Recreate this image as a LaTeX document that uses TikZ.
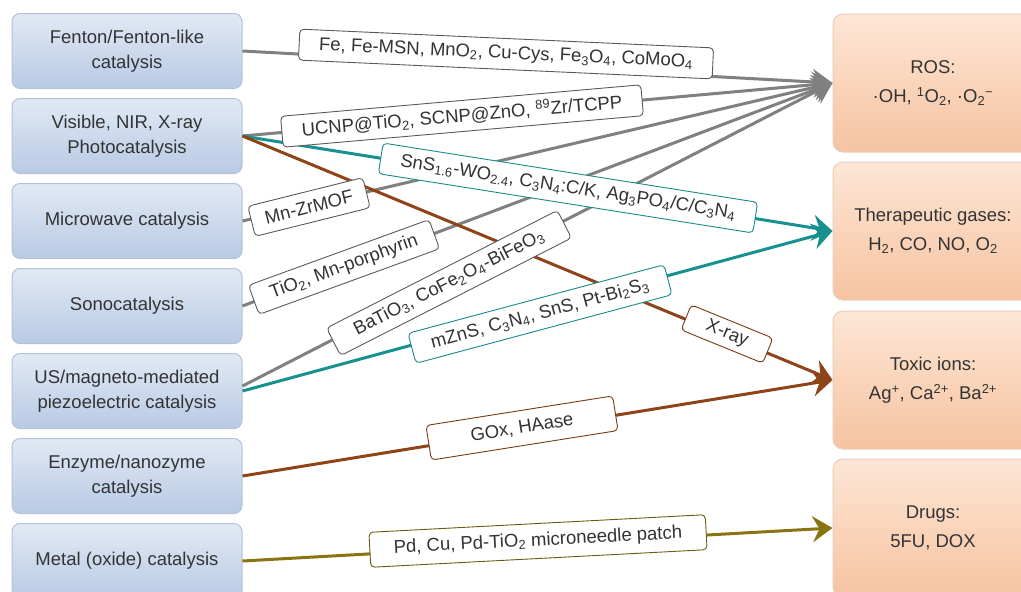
\documentclass[tikz,border=0pt]{standalone}
\usepackage{fontspec}
\setmainfont{Liberation Sans}
\usetikzlibrary{arrows.meta}
\definecolor{srcT}{HTML}{E2E9F5}
\definecolor{srcBot}{HTML}{B8CAE4}
\definecolor{srcB}{HTML}{B3C2D9}
\definecolor{tgtT}{HTML}{FDE6D6}
\definecolor{tgtBot}{HTML}{F6C3A0}
\definecolor{tgtB}{HTML}{E9CDBB}
\definecolor{txt}{HTML}{333333}
\definecolor{grayc}{HTML}{808080}
\definecolor{tealc}{HTML}{17918F}
\definecolor{brownc}{HTML}{8E4418}
\definecolor{olivec}{HTML}{8A7412}
\definecolor{grayb}{HTML}{5A5A5A}
\definecolor{tealb}{HTML}{1A8A8A}
\definecolor{brownb}{HTML}{7A3A10}
\definecolor{oliveb}{HTML}{6B5A10}
\begin{document}
\begin{tikzpicture}[x=1pt,y=-1pt,
  font=\fontsize{18.5}{25}\selectfont,
  srcbox/.style={draw=srcB, line width=1pt, rounded corners=8pt, top color=srcT, bottom color=srcBot,
    minimum width=230pt, minimum height=75pt, align=center, text=txt, inner sep=2pt},
  tgtbox/.style={draw=tgtB, line width=1pt, rounded corners=10pt, top color=tgtT, bottom color=tgtBot,
    minimum width=200pt, minimum height=138pt, align=center, text=txt, inner sep=2pt,
    font=\fontsize{18.5}{29}\selectfont},
  lbl/.style={draw, fill=white, rounded corners=4pt, line width=0.9pt, minimum height=31pt,
    inner xsep=20pt, inner ysep=3pt, text=txt},
  conn/.style={line width=3pt, -{Stealth[length=20pt,width=26pt,inset=7pt]}},
]
\useasboundingbox (0,0) rectangle (1021,592);

% source boxes
\node[srcbox] (fen) at (127,51)  {Fenton/Fenton-like\\catalysis};
\node[srcbox] (vis) at (127,136) {Visible, NIR, X-ray\\Photocatalysis};
\node[srcbox] (mw)  at (127,221) {Microwave catalysis};
\node[srcbox] (son) at (127,306) {Sonocatalysis};
\node[srcbox] (us)  at (127,391) {US/magneto-mediated\\piezoelectric catalysis};
\node[srcbox] (enz) at (127,476) {Enzyme/nanozyme\\catalysis};
\node[srcbox] (met) at (127,561) {Metal (oxide) catalysis};

% target boxes
\node[tgtbox] (ros)  at (933,83)  {ROS:\\·OH, \textsuperscript{1}O\textsubscript{2}, ·O\textsubscript{2}\textsuperscript{−}};
\node[tgtbox] (ther) at (933,231) {Therapeutic gases:\\H\textsubscript{2}, CO, NO, O\textsubscript{2}};
\node[tgtbox] (tox)  at (933,380) {Toxic ions:\\Ag\textsuperscript{+}, Ca\textsuperscript{2+}, Ba\textsuperscript{2+}};
\node[tgtbox] (drug) at (933,528) {Drugs:\\5FU, DOX};

% connectors
\draw[conn, grayc] (fen.east) -- (ros.west);
\draw[conn, grayc] (vis.east) -- (ros.west);
\draw[conn, grayc] (mw.east) -- (ros.west);
\draw[conn, grayc] (son.east) -- (ros.west);
\draw[conn, grayc] ([yshift=5pt]us.east) -- (ros.west);
\draw[conn, tealc] (vis.east) -- (ther.west);
\draw[conn, tealc] (us.east) -- (ther.west);
\draw[conn, brownc] (vis.east) -- (tox.west);
\draw[conn, brownc] (enz.east) -- (tox.west);
\draw[conn, olivec] (met.east) -- (drug.west);

% labels
\node[lbl, draw=grayb, rotate=-2.6] (l1) at (506,54)
  {Fe, Fe-MSN, MnO\textsubscript{2}, Cu-Cys, Fe\textsubscript{3}O\textsubscript{4}, CoMoO\textsubscript{4}};
\node[lbl, draw=grayb, rotate=5] (l2) at (462,116)
  {UCNP@TiO\textsubscript{2}, SCNP@ZnO, \textsuperscript{89}Zr/TCPP};
\node[lbl, draw=tealb, rotate=-9] (l3) at (568,188)
  {SnS\textsubscript{1.6}-WO\textsubscript{2.4}, C\textsubscript{3}N\textsubscript{4}:C/K, Ag\textsubscript{3}PO\textsubscript{4}/C/C\textsubscript{3}N\textsubscript{4}};
\node[lbl, draw=grayb, rotate=14, inner xsep=14pt] (l4) at (309,207) {Mn-ZrMOF};
\node[lbl, draw=grayb, rotate=20, inner xsep=18pt] (l5) at (344,267)
  {TiO\textsubscript{2}, Mn-porphyrin};
\node[lbl, draw=grayb, rotate=27, inner xsep=24pt] (l6) at (449,283)
  {BaTiO\textsubscript{3}, CoFe\textsubscript{2}O\textsubscript{4}-BiFeO\textsubscript{3}};
\node[lbl, draw=tealb, rotate=15] (l7) at (540,314)
  {mZnS, C\textsubscript{3}N\textsubscript{4}, SnS, Pt-Bi\textsubscript{2}S\textsubscript{3}};
\node[lbl, draw=brownb, rotate=-22.2, minimum height=27pt, inner xsep=22pt] (l8) at (727,334) {X-ray};
\node[lbl, draw=brownb, rotate=9, minimum width=189pt, minimum height=35pt] (l9) at (522,428) {GOx, HAase};
\node[lbl, draw=oliveb, rotate=3, inner xsep=24pt, minimum height=35pt] (l10) at (538,541)
  {Pd, Cu, Pd-TiO\textsubscript{2} microneedle patch};
\end{tikzpicture}
\end{document}
